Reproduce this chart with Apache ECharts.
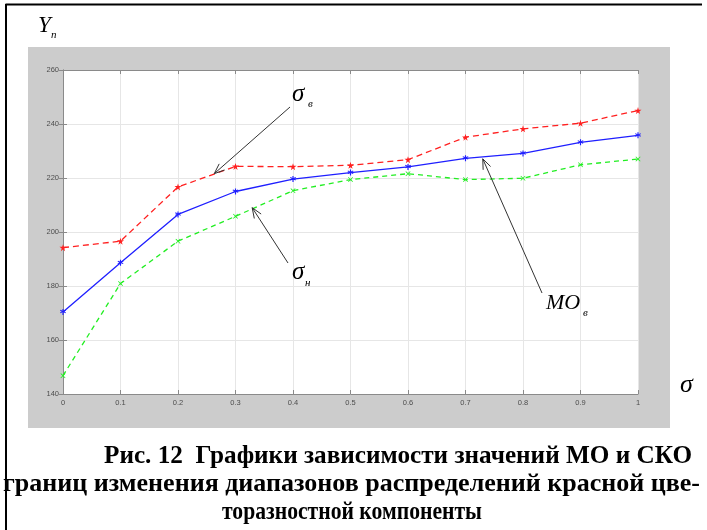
<!DOCTYPE html>
<html>
<head>
<meta charset="utf-8">
<script src="https://cdn.jsdelivr.net/npm/echarts@6/dist/echarts.min.js"></script>
<style>
  html, body { margin: 0; padding: 0; background: #fff; }
  #chart { width: 707px; height: 530px; }
</style>
</head>
<body>
<div id="chart"></div>
<script>
// Noise level σ along the horizontal axis
const sigma = [0, 0.1, 0.2, 0.3, 0.4, 0.5, 0.6, 0.7, 0.8, 0.9, 1];
// Upper boundary σв (red dashed), mean МОв (blue), lower boundary σн (green dashed)
const upperBound = [194.2, 196.6, 216.7, 224.3, 224.2, 224.7, 226.8, 235.1, 238.2, 240.3, 245.0];
const meanValue  = [170.4, 188.6, 206.5, 215.0, 219.6, 222.0, 224.1, 227.3, 229.1, 233.2, 235.8];
const lowerBound = [146.8, 180.9, 196.6, 205.8, 215.3, 219.4, 221.6, 219.4, 219.9, 224.9, 227.0];
// Tick labels
const yTicks = [140, 160, 180, 200, 220, 240, 260];
const xTicks = ['0', '0.1', '0.2', '0.3', '0.4', '0.5', '0.6', '0.7', '0.8', '0.9', '1'];
// Caption lines
const captionLines = [
  'Рис. 12  Графики зависимости значений МО и СКО',
  'границ изменения диапазонов распределений красной цве-',
  'торазностной компоненты'
];

const pairs = vals => sigma.map((s, i) => [s, vals[i]]);

const STAR = 'path://M50,0 L61,35 L98,35 L68,57 L79,91 L50,70 L21,91 L32,57 L2,35 L39,35 Z';
const CROSS = 'path://M10,0 L50,38 L90,0 L100,10 L62,50 L100,90 L90,100 L50,62 L10,100 L0,90 L38,50 L0,10 Z';
const ASTER = 'path://M42,0 H58 V30 L84,15 L92,29 L66,44 L92,58 L84,72 L58,57 V100 H42 V57 L16,72 L8,58 L34,44 L8,29 L16,15 L42,30 Z';

const axisGray = '#8a8a8a';
const gridGray = '#e6e6e6';
const tickFont = { fontFamily: 'Liberation Sans', fontSize: 7.5, color: '#4d4d4d' };

const chart = echarts.init(document.getElementById('chart'), null, { renderer: 'canvas' });

const xBase = {
  type: 'value', min: 0, max: 1, interval: 0.1,
  axisLine: { show: true, lineStyle: { color: axisGray, width: 1 } },
  axisTick: { show: true, inside: true, length: 4, lineStyle: { color: axisGray } },
};
const yBase = {
  type: 'value', min: yTicks[0], max: yTicks[yTicks.length - 1], interval: yTicks[1] - yTicks[0],
  axisLine: { show: true, lineStyle: { color: axisGray, width: 1 } },
  axisTick: { show: true, inside: true, length: 4, lineStyle: { color: axisGray } },
};

chart.setOption({
  animation: false,
  backgroundColor: '#ffffff',
  grid: { left: 63, top: 70, right: 69, bottom: 136 },
  xAxis: [
    Object.assign({}, xBase, {
      position: 'bottom',
      axisLabel: Object.assign({ margin: 5, formatter: (v) => xTicks[Math.round(v * 10)] }, tickFont),
      splitLine: { show: true, lineStyle: { color: gridGray, width: 1 } }
    }),
    Object.assign({}, xBase, { position: 'top', axisLabel: { show: false }, splitLine: { show: false } })
  ],
  yAxis: [
    Object.assign({}, yBase, {
      position: 'left',
      axisLabel: Object.assign({ margin: 4 }, tickFont),
      splitLine: { show: true, lineStyle: { color: gridGray, width: 1 } }
    }),
    Object.assign({}, yBase, { position: 'right', axisLabel: { show: false }, splitLine: { show: false } })
  ],
  series: [
    {
      name: 'σв', type: 'line', data: pairs(upperBound),
      symbol: STAR, symbolSize: 7,
      lineStyle: { color: '#ff2020', width: 1.3, type: [6, 4] },
      itemStyle: { color: '#ff2020' }, z: 3
    },
    {
      name: 'МОв', type: 'line', data: pairs(meanValue),
      symbol: ASTER, symbolSize: 6,
      lineStyle: { color: '#1f1fff', width: 1.3 },
      itemStyle: { color: '#1f1fff' }, z: 4
    },
    {
      name: 'σн', type: 'line', data: pairs(lowerBound),
      symbol: CROSS, symbolSize: 5,
      lineStyle: { color: '#22ee22', width: 1.3, type: [5, 4] },
      itemStyle: { color: '#22ee22' }, z: 3
    }
  ]
});

// Arrow annotations: tail given in pixels, tip in data coordinates
const annotations = [
  { tail: [290, 107], tip: [0.263, 221.6] },
  { tail: [288, 263], tip: [0.329, 209.0] },
  { tail: [542, 293], tip: [0.730, 227.1] }
];

function arrow(tail, tip) {
  const dx = tip[0] - tail[0], dy = tip[1] - tail[1];
  const ang = Math.atan2(dy, dx);
  const len = 11, spread = 0.38;
  const a1 = [tip[0] - len * Math.cos(ang - spread), tip[1] - len * Math.sin(ang - spread)];
  const a2 = [tip[0] - len * Math.cos(ang + spread), tip[1] - len * Math.sin(ang + spread)];
  const style = { stroke: '#333333', lineWidth: 1, fill: null };
  return [
    { type: 'line', shape: { x1: tail[0], y1: tail[1], x2: tip[0], y2: tip[1] }, style, z: 10 },
    { type: 'polyline', shape: { points: [a1, tip, a2] }, style, z: 10 }
  ];
}

// Text placed by its baseline (the em box middle sits ~0.34em above the baseline)
function text(x, baseline, str, size, weight, scaleX) {
  return {
    type: 'text', x, y: baseline - 0.34 * size, z: 10, scaleX: scaleX || 1,
    style: {
      text: str, fill: '#000',
      font: (weight || 'italic') + ' ' + size + 'px "Liberation Serif"',
      verticalAlign: 'middle', textVerticalAlign: 'middle'
    }
  };
}

const elems = [
  // gray figure panel and white plot area
  { type: 'rect', shape: { x: 28, y: 47, width: 642, height: 381 }, style: { fill: '#cccccc' }, z: -10 },
  { type: 'rect', shape: { x: 63, y: 70, width: 575, height: 324 }, style: { fill: '#ffffff' }, z: -9 },
  // page frame
  { type: 'line', shape: { x1: 5.5, y1: 4.5, x2: 702, y2: 4.5 }, style: { stroke: '#000', lineWidth: 2 }, z: 10 },
  { type: 'line', shape: { x1: 6, y1: 4, x2: 6, y2: 530 }, style: { stroke: '#000', lineWidth: 2 }, z: 10 },
  // axis names
  text(38, 34, 'Y', 23),
  text(51, 39, 'n', 11),
  text(680, 394, 'σ', 26),
  // curve labels
  text(292, 103, 'σ', 25),
  text(308, 108, 'в', 11),
  text(292, 281, 'σ', 25),
  text(305, 287, 'н', 11),
  text(546, 311, 'MO', 22),
  text(583, 317, 'в', 11)
];

annotations.forEach(a => {
  const tip = chart.convertToPixel({ gridIndex: 0 }, a.tip);
  elems.push(...arrow(a.tail, tip));
});

// Caption, bold serif, each line fitted to its span
const capY = [465, 493, 521];
const capBox = [[104, 692], [3, 700], [222, 482]];
const ctx = document.createElement('canvas').getContext('2d');
const capSize = 26;
ctx.font = 'bold ' + capSize + 'px "Liberation Serif"';
captionLines.forEach((line, i) => {
  const w = ctx.measureText(line).width;
  const target = capBox[i][1] - capBox[i][0];
  elems.push(text(capBox[i][0], capY[i], line, capSize, 'bold', target / w));
});

chart.setOption({ graphic: { elements: elems } });
</script>
</body>
</html>
